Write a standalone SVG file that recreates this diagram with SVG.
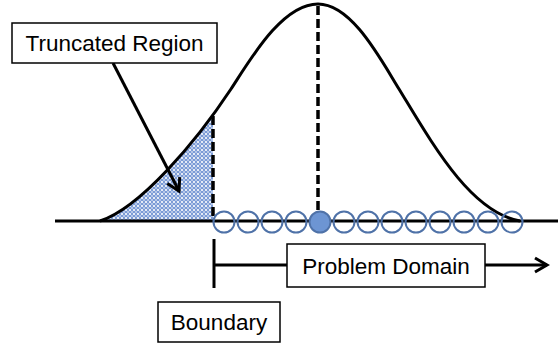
<svg xmlns="http://www.w3.org/2000/svg" width="558" height="345" viewBox="0 0 558 345">
<style>
.box{fill:#fff;stroke:#000;stroke-width:1.5}
.lbl{font-family:"Liberation Sans",Arial,sans-serif;font-size:22.5px;fill:#000;text-anchor:middle}
.thick{stroke:#000;stroke-width:3;fill:none}
.dash{stroke:#000;stroke-width:3.5;fill:none;stroke-dasharray:9 4}
.pt{fill:none;stroke:#4f72a8;stroke-width:2}
.ptf{fill:#6d95d3;stroke:#4f72a8;stroke-width:2}
</style>
<defs>
<pattern id="hatch" width="4" height="4" patternUnits="userSpaceOnUse">
<rect width="4" height="4" fill="#7b9bd6"/>
<circle cx="2" cy="2" r="1.1" fill="#fff"/>
<circle cx="0" cy="0" r="0.8" fill="#fff"/>
<circle cx="4" cy="0" r="0.8" fill="#fff"/>
<circle cx="0" cy="4" r="0.8" fill="#fff"/>
<circle cx="4" cy="4" r="0.8" fill="#fff"/>
</pattern>
<clipPath id="leftClip"><rect x="0" y="0" width="213" height="222"/></clipPath>
<marker id="vhead" markerUnits="userSpaceOnUse" markerWidth="20" markerHeight="20" viewBox="-14 -10 16 20" refX="0" refY="0" orient="auto">
<path d="M-12,-7 L0,0 L-12,7" fill="none" stroke="#000" stroke-width="3"/>
</marker>
</defs>

<g id="truncated-area">
<path d="M100,221 C140,208 196,142 231,89 C250,60 282,4 318,4 C352,4 381,60 399,89 C432,143 470,212 520,221 Z" fill="url(#hatch)" clip-path="url(#leftClip)"/>
</g>

<g id="axis">
<line x1="55" y1="221" x2="558" y2="221" class="thick"/>
</g>

<g id="curve">
<path d="M100,221 C140,208 196,142 231,89 C250,60 282,4 318,4 C352,4 381,60 399,89 C432,143 470,212 520,221" class="thick"/>
</g>

<g id="dashed-lines">
<line x1="213" y1="116" x2="213" y2="221" class="dash"/>
<line x1="318" y1="6" x2="318" y2="211" class="dash"/>
</g>

<g id="points">
<circle cx="224" cy="222" r="10.5" class="pt"/>
<circle cx="248" cy="222" r="10.5" class="pt"/>
<circle cx="272" cy="222" r="10.5" class="pt"/>
<circle cx="296" cy="222" r="10.5" class="pt"/>
<circle cx="320" cy="222" r="10.5" class="ptf"/>
<circle cx="344" cy="222" r="10.5" class="pt"/>
<circle cx="368" cy="222" r="10.5" class="pt"/>
<circle cx="392" cy="222" r="10.5" class="pt"/>
<circle cx="416" cy="222" r="10.5" class="pt"/>
<circle cx="440" cy="222" r="10.5" class="pt"/>
<circle cx="464" cy="222" r="10.5" class="pt"/>
<circle cx="488" cy="222" r="10.5" class="pt"/>
<circle cx="512" cy="222" r="10.5" class="pt"/>
</g>

<g id="connectors">
<line x1="113" y1="63" x2="179" y2="191" class="thick" marker-end="url(#vhead)"/>
<line x1="214" y1="239" x2="214" y2="288" class="thick"/>
<line x1="214" y1="265" x2="287" y2="265" class="thick"/>
<line x1="485" y1="265" x2="547" y2="265" class="thick" marker-end="url(#vhead)"/>
</g>

<g id="truncated-region">
<rect x="12" y="23" width="205" height="40" class="box"/>
<text x="114.5" y="50.5" class="lbl">Truncated Region</text>
</g>

<g id="problem-domain">
<rect x="287" y="244" width="198" height="43" class="box"/>
<text x="386" y="274" class="lbl">Problem Domain</text>
</g>

<g id="boundary">
<rect x="158" y="302" width="122" height="40" class="box"/>
<text x="219" y="330" class="lbl">Boundary</text>
</g>
</svg>
